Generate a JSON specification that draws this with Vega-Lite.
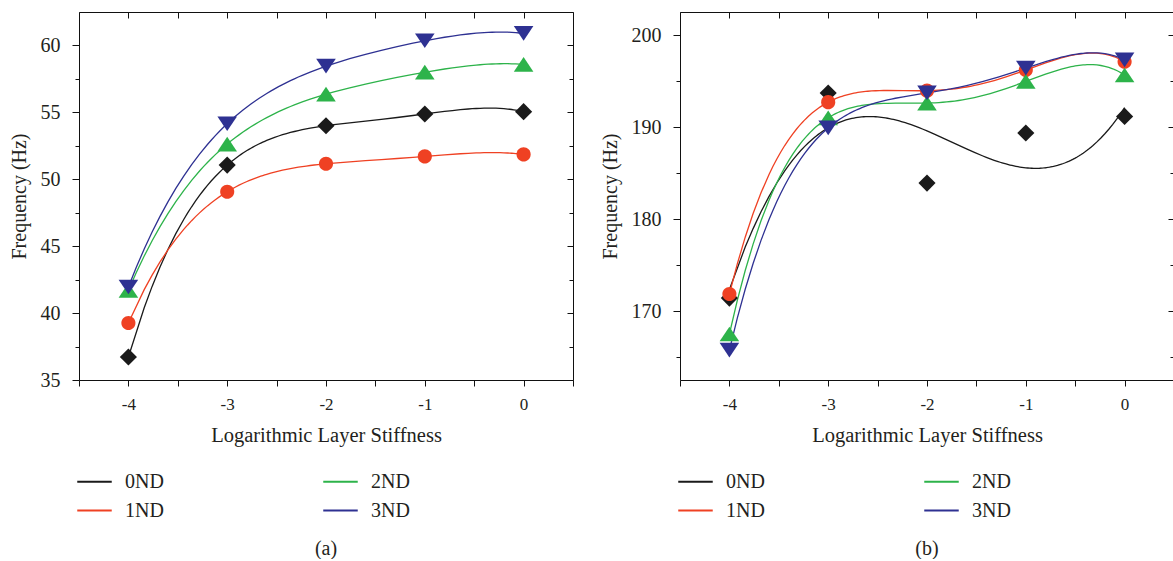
{
  "$schema": "https://vega.github.io/schema/vega-lite/v6.json",
  "background": "white",
  "padding": {"left": 9, "top": 11, "right": 0, "bottom": 0},
  "config": {
    "font": "Liberation Serif",
    "view": {"stroke": null},
    "axis": {
      "grid": false,
      "domainColor": "#111",
      "domainWidth": 1,
      "tickColor": "#111",
      "tickWidth": 1,
      "labelFont": "Liberation Serif",
      "labelColor": "#231f20",
      "titleFont": "Liberation Serif",
      "titleColor": "#231f20",
      "titleFontWeight": "normal"
    },
    "legend": {
      "orient": "none",
      "legendX": -3,
      "legendY": 451,
      "columns": 2,
      "columnPadding": 155,
      "rowPadding": -3,
      "symbolType": "stroke",
      "symbolSize": 1190,
      "symbolStrokeWidth": 2,
      "labelFont": "Liberation Serif",
      "labelFontSize": 20,
      "labelColor": "#231f20",
      "labelOffset": 12
    },
    "title": {"font": "Liberation Serif", "fontSize": 20, "fontWeight": "normal", "color": "#231f20"},
    "concat": {"spacing": 26}
  },
  "datasets": {
    "a": [
      {"x": -4, "y": 36.72, "s": "0ND"}, {"x": -3, "y": 51.06, "s": "0ND"}, {"x": -2, "y": 54.0, "s": "0ND"}, {"x": -1, "y": 54.88, "s": "0ND"}, {"x": 0, "y": 55.05, "s": "0ND"},
      {"x": -4, "y": 39.26, "s": "1ND"}, {"x": -3, "y": 49.07, "s": "1ND"}, {"x": -2, "y": 51.16, "s": "1ND"}, {"x": -1, "y": 51.71, "s": "1ND"}, {"x": 0, "y": 51.86, "s": "1ND"},
      {"x": -4, "y": 41.7, "s": "2ND"}, {"x": -3, "y": 52.63, "s": "2ND"}, {"x": -2, "y": 56.36, "s": "2ND"}, {"x": -1, "y": 58.0, "s": "2ND"}, {"x": 0, "y": 58.58, "s": "2ND"},
      {"x": -4, "y": 41.95, "s": "3ND"}, {"x": -3, "y": 54.15, "s": "3ND"}, {"x": -2, "y": 58.45, "s": "3ND"}, {"x": -1, "y": 60.35, "s": "3ND"}, {"x": 0, "y": 60.9, "s": "3ND"}
    ],
    "b": [
      {"x": -4, "y": 171.4, "s": "0ND"}, {"x": -3, "y": 193.7, "s": "0ND"}, {"x": -2, "y": 183.9, "s": "0ND"}, {"x": -1, "y": 189.35, "s": "0ND"}, {"x": 0, "y": 191.15, "s": "0ND"},
      {"x": -4, "y": 171.85, "s": "1ND"}, {"x": -3, "y": 192.7, "s": "1ND"}, {"x": -2, "y": 193.95, "s": "1ND"}, {"x": -1, "y": 196.2, "s": "1ND"}, {"x": 0, "y": 197.1, "s": "1ND"},
      {"x": -4, "y": 167.5, "s": "2ND"}, {"x": -3, "y": 191.0, "s": "2ND"}, {"x": -2, "y": 192.6, "s": "2ND"}, {"x": -1, "y": 194.95, "s": "2ND"}, {"x": 0, "y": 195.65, "s": "2ND"},
      {"x": -4, "y": 165.75, "s": "3ND"}, {"x": -3, "y": 189.9, "s": "3ND"}, {"x": -2, "y": 193.7, "s": "3ND"}, {"x": -1, "y": 196.4, "s": "3ND"}, {"x": 0, "y": 197.3, "s": "3ND"}
    ]
  },
  "resolve": {
    "scale": {"x": "independent", "y": "independent", "color": "independent", "shape": "independent"},
    "legend": {"color": "independent"}
  },
  "hconcat": [
    {
      "width": 494,
      "height": 368,
      "data": {"name": "a"},
      "title": {"text": "(a)", "orient": "bottom", "anchor": "middle", "offset": 18},
      "resolve": {"axis": {"x": "independent", "y": "independent"}},
      "layer": [
        {
          "transform": [{"regression": "y", "on": "x", "groupby": ["s"], "method": "poly", "order": 4, "extent": [-4, 0]}],
          "mark": {"type": "line", "strokeWidth": 1.3},
          "encoding": {
            "x": {"field": "x", "type": "quantitative", "scale": {"domain": [-4.5, 0.5], "nice": false, "zero": false},
              "axis": {"orient": "bottom", "values": [-4.5, -4, -3.5, -3, -2.5, -2, -1.5, -1, -0.5, 0, 0.5], "labelExpr": "datum.value % 1 === 0 ? '' + datum.value : ''", "tickSize": 6, "labelFontSize": 17, "labelPadding": 10, "title": "Logarithmic Layer Stiffness", "titleFontSize": 20.5, "titlePadding": 13}},
            "y": {"field": "y", "type": "quantitative", "scale": {"domain": [35, 62.5], "nice": false, "zero": false},
              "axis": {"orient": "left", "values": [35, 37.5, 40, 42.5, 45, 47.5, 50, 52.5, 55, 57.5, 60], "labelExpr": "datum.value % 5 === 0 ? '' + datum.value : ''", "tickSize": {"condition": {"test": "datum.value % 5 === 0", "value": 7}, "value": 4}, "labelFontSize": 20, "labelPadding": 12, "title": "Frequency (Hz)", "titleFontSize": 20, "titlePadding": 11}},
            "color": {"field": "s", "type": "nominal", "scale": {"domain": ["0ND", "1ND", "2ND", "3ND"], "range": ["#1a1a1a", "#ef4123", "#2db34a", "#2e3192"]}, "legend": {"title": null, "symbolType": "stroke"}}
          }
        },
        {
          "mark": {"type": "point", "filled": true, "opacity": 1, "size": 150},
          "encoding": {
            "x": {"field": "x", "type": "quantitative", "axis": {"orient": "top", "values": [-4.5, -4, -3.5, -3, -2.5, -2, -1.5, -1, -0.5, 0, 0.5], "labels": false, "tickSize": -6, "title": null}},
            "y": {"field": "y", "type": "quantitative", "axis": {"orient": "right", "values": [35, 37.5, 40, 42.5, 45, 47.5, 50, 52.5, 55, 57.5, 60], "labels": false, "tickSize": {"condition": {"test": "datum.value % 5 === 0", "value": -6}, "value": -4}, "title": null}},
            "color": {"field": "s", "type": "nominal", "scale": {"domain": ["0ND", "1ND", "2ND", "3ND"], "range": ["#1a1a1a", "#ef4123", "#2db34a", "#2e3192"]}, "legend": null},
            "shape": {"field": "s", "type": "nominal", "scale": {"domain": ["3ND", "2ND", "1ND", "0ND"], "range": ["M0,1.2L1.6,-1.2L-1.6,-1.2Z", "M0,-1.2L1.6,1.2L-1.6,1.2Z", "M-1.15,0A1.15,1.15 0 1,0 1.15,0A1.15,1.15 0 1,0 -1.15,0Z", "M0,-1.4L1.4,0L0,1.4L-1.4,0Z"]}, "legend": null}
          }
        }
      ]
    },
    {
      "width": 494,
      "height": 368,
      "data": {"name": "b"},
      "title": {"text": "(b)", "orient": "bottom", "anchor": "middle", "offset": 18},
      "resolve": {"axis": {"x": "independent", "y": "independent"}},
      "layer": [
        {
          "transform": [{"filter": "datum.s === '0ND'"}, {"regression": "y", "on": "x", "groupby": ["s"], "method": "poly", "order": 3, "extent": [-4, 0]}],
          "mark": {"type": "line", "strokeWidth": 1.3},
          "encoding": {
            "x": {"field": "x", "type": "quantitative", "scale": {"domain": [-4.5, 0.5], "nice": false, "zero": false},
              "axis": {"orient": "bottom", "values": [-4.5, -4, -3.5, -3, -2.5, -2, -1.5, -1, -0.5, 0, 0.5], "labelExpr": "datum.value % 1 === 0 ? '' + datum.value : ''", "tickSize": 6, "labelFontSize": 17, "labelPadding": 10, "title": "Logarithmic Layer Stiffness", "titleFontSize": 20.5, "titlePadding": 13}},
            "y": {"field": "y", "type": "quantitative", "scale": {"domain": [162.5, 202.5], "nice": false, "zero": false},
              "axis": {"orient": "left", "values": [165, 170, 175, 180, 185, 190, 195, 200], "labelExpr": "datum.value % 10 === 0 ? '' + datum.value : ''", "tickSize": {"condition": {"test": "datum.value % 10 === 0", "value": 7}, "value": 4}, "labelFontSize": 20, "labelPadding": 12, "title": "Frequency (Hz)", "titleFontSize": 20, "titlePadding": 11}},
            "color": {"field": "s", "type": "nominal", "scale": {"domain": ["0ND", "1ND", "2ND", "3ND"], "range": ["#1a1a1a", "#ef4123", "#2db34a", "#2e3192"]}, "legend": {"title": null, "symbolType": "stroke"}}
          }
        },
        {
          "transform": [{"filter": "datum.s !== '0ND'"}, {"regression": "y", "on": "x", "groupby": ["s"], "method": "poly", "order": 4, "extent": [-4, 0]}],
          "mark": {"type": "line", "strokeWidth": 1.3},
          "encoding": {
            "x": {"field": "x", "type": "quantitative", "axis": null},
            "y": {"field": "y", "type": "quantitative", "axis": null},
            "color": {"field": "s", "type": "nominal", "scale": {"domain": ["0ND", "1ND", "2ND", "3ND"], "range": ["#1a1a1a", "#ef4123", "#2db34a", "#2e3192"]}, "legend": {"title": null, "symbolType": "stroke"}}
          }
        },
        {
          "mark": {"type": "point", "filled": true, "opacity": 1, "size": 150},
          "encoding": {
            "x": {"field": "x", "type": "quantitative", "axis": {"orient": "top", "values": [-4.5, -4, -3.5, -3, -2.5, -2, -1.5, -1, -0.5, 0, 0.5], "labels": false, "tickSize": -6, "title": null}},
            "y": {"field": "y", "type": "quantitative", "axis": {"orient": "right", "values": [165, 170, 175, 180, 185, 190, 195, 200], "labels": false, "tickSize": {"condition": {"test": "datum.value % 10 === 0", "value": -6}, "value": -4}, "title": null}},
            "color": {"field": "s", "type": "nominal", "scale": {"domain": ["0ND", "1ND", "2ND", "3ND"], "range": ["#1a1a1a", "#ef4123", "#2db34a", "#2e3192"]}, "legend": null},
            "shape": {"field": "s", "type": "nominal", "scale": {"domain": ["3ND", "2ND", "1ND", "0ND"], "range": ["M0,1.2L1.6,-1.2L-1.6,-1.2Z", "M0,-1.2L1.6,1.2L-1.6,1.2Z", "M-1.15,0A1.15,1.15 0 1,0 1.15,0A1.15,1.15 0 1,0 -1.15,0Z", "M0,-1.4L1.4,0L0,1.4L-1.4,0Z"]}, "legend": null}
          }
        }
      ]
    }
  ]
}
